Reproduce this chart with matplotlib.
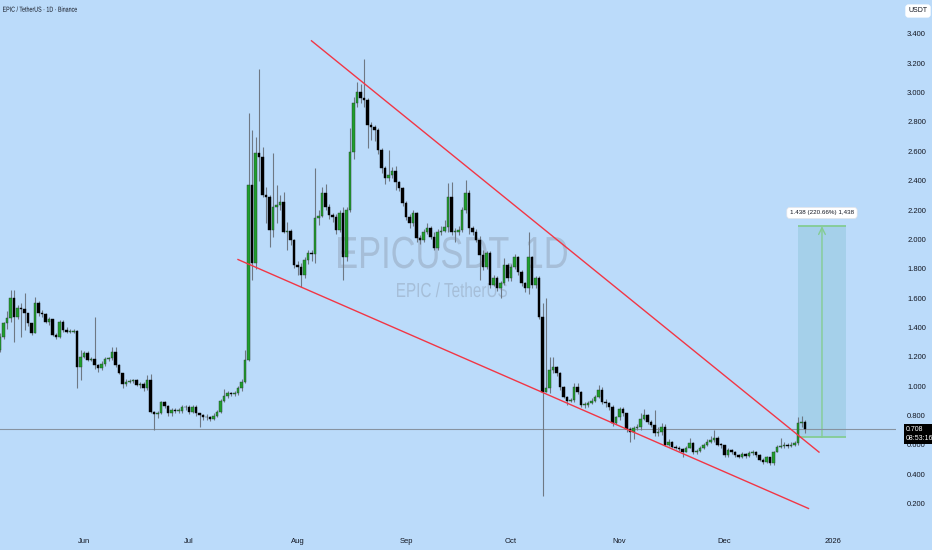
#!/usr/bin/env python3
import pandas as pd
import numpy as np
import matplotlib
matplotlib.use('Agg')
import matplotlib.pyplot as plt
from matplotlib.patches import Rectangle, PathPatch
from matplotlib.textpath import TextPath
from matplotlib.font_manager import FontProperties
from matplotlib.transforms import Affine2D, IdentityTransform

# Daily candles EPIC/USDT (Binance), first candle 2025-05-08
start_date = '2025-05-08'
first_open = 1.246

closes = [
    1.337, 1.428, 1.462, 1.598, 1.473, 1.530, 1.523, 1.496, 1.428, 1.364,
    1.569, 1.496, 1.491, 1.439, 1.455, 1.348, 1.337, 1.439, 1.382, 1.371,
    1.371, 1.378, 1.128, 1.196, 1.228, 1.178, 1.187, 1.144, 1.121, 1.151,
    1.183, 1.189, 1.235, 1.144, 1.087, 1.014, 1.030, 1.037, 1.042, 1.008,
    1.012, 0.985, 1.042, 0.826, 0.808, 0.815, 0.894, 0.865, 0.815, 0.837,
    0.830, 0.833, 0.855, 0.860, 0.826, 0.860, 0.815, 0.803, 0.787, 0.792,
    0.774, 0.796, 0.826, 0.901, 0.933, 0.951, 0.946, 0.955, 0.985, 1.030,
    1.178, 2.370, 1.837, 2.586, 2.563, 2.302, 2.291, 2.064, 2.223, 2.235,
    2.257, 2.052, 2.060, 1.995, 1.825, 1.814, 1.757, 1.859, 1.905, 1.900,
    2.143, 2.161, 2.318, 2.223, 2.166, 2.155, 2.064, 2.177, 1.882, 2.200,
    2.597, 2.927, 3.006, 2.960, 2.949, 2.779, 2.768, 2.745, 2.609, 2.484,
    2.416, 2.438, 2.468, 2.393, 2.348, 2.245, 2.154, 2.109, 2.182, 2.007,
    1.996, 2.052, 2.075, 2.019, 1.939, 2.053, 2.057, 2.082, 2.291, 2.053,
    2.053, 2.064, 2.200, 2.314, 2.076, 2.053, 1.996, 1.894, 1.814, 1.905,
    1.690, 1.735, 1.667, 1.701, 1.826, 1.735, 1.814, 1.878, 1.780, 1.701,
    1.667, 1.878, 1.690, 1.735, 1.474, 0.963, 0.985, 1.110, 1.133, 1.088,
    0.997, 0.929, 0.901, 0.905, 0.997, 0.963, 0.872, 0.872, 0.888, 0.900,
    0.929, 0.974, 0.895, 0.883, 0.861, 0.747, 0.790, 0.842, 0.815, 0.706,
    0.685, 0.713, 0.720, 0.774, 0.804, 0.758, 0.735, 0.679, 0.690, 0.725,
    0.600, 0.620, 0.588, 0.580, 0.570, 0.555, 0.582, 0.610, 0.555, 0.558,
    0.577, 0.600, 0.622, 0.633, 0.645, 0.600, 0.598, 0.530, 0.565, 0.555,
    0.531, 0.520, 0.538, 0.525, 0.547, 0.552, 0.530, 0.497, 0.486, 0.515,
    0.475, 0.554, 0.588, 0.593, 0.597, 0.595, 0.597, 0.610, 0.747, 0.758,
    0.708]

highs = [
    1.36, 1.44, 1.51, 1.655, 1.655, 1.55, 1.564, 1.632, 1.50, 1.43,
    1.609, 1.58, 1.52, 1.50, 1.47, 1.46, 1.36, 1.45, 1.45, 1.40,
    1.39, 1.39, 1.38, 1.246, 1.24, 1.24, 1.20, 1.473, 1.15, 1.17,
    1.20, 1.20, 1.27, 1.27, 1.15, 1.09, 1.05, 1.05, 1.05, 1.05,
    1.03, 1.03, 1.076, 1.08, 0.83, 0.83, 0.90, 0.90, 0.87, 0.85,
    0.85, 0.85, 0.87, 0.87, 0.87, 0.87, 0.87, 0.82, 0.81, 0.81,
    0.80, 0.82, 0.84, 0.91, 0.98, 0.97, 0.96, 0.97, 1.00, 1.05,
    1.246, 2.858, 2.745, 2.70, 3.16, 2.631, 2.359, 2.30, 2.59, 2.37,
    2.30, 2.325, 2.12, 2.07, 2.00, 1.85, 1.84, 1.88, 1.93, 1.93,
    2.484, 2.20, 2.36, 2.38, 2.24, 2.18, 2.17, 2.20, 2.22, 2.22,
    2.756, 2.97, 3.07, 3.06, 3.226, 2.96, 2.80, 2.78, 2.76, 2.62,
    2.50, 2.61, 2.49, 2.50, 2.40, 2.36, 2.26, 2.17, 2.20, 2.19,
    2.03, 2.07, 2.11, 2.09, 2.05, 2.07, 2.09, 2.13, 2.382, 2.393,
    2.08, 2.09, 2.22, 2.405, 2.34, 2.09, 2.07, 2.02, 1.93, 1.92,
    1.92, 1.76, 1.75, 1.72, 1.87, 1.84, 1.83, 1.90, 1.89, 1.79,
    1.71, 2.053, 1.89, 1.75, 1.75, 1.565, 1.599, 1.20, 1.20, 1.14,
    1.10, 1.00, 0.93, 0.92, 1.02, 1.02, 0.97, 0.89, 0.90, 0.92,
    0.94, 1.008, 0.997, 0.91, 0.89, 0.87, 0.80, 0.86, 0.86, 0.82,
    0.72, 0.73, 0.74, 0.815, 0.842, 0.81, 0.77, 0.838, 0.72, 0.75,
    0.74, 0.64, 0.63, 0.60, 0.59, 0.58, 0.59, 0.65, 0.62, 0.57,
    0.59, 0.61, 0.64, 0.66, 0.70, 0.66, 0.61, 0.60, 0.58, 0.57,
    0.56, 0.54, 0.55, 0.545, 0.56, 0.565, 0.56, 0.535, 0.51, 0.525,
    0.52, 0.56, 0.60, 0.65, 0.62, 0.61, 0.62, 0.63, 0.79, 0.80,
    0.77]

lows = [
    1.23, 1.32, 1.39, 1.44, 1.303, 1.46, 1.337, 1.382, 1.41, 1.35,
    1.36, 1.48, 1.47, 1.43, 1.42, 1.34, 1.32, 1.33, 1.37, 1.36,
    1.36, 1.36, 0.985, 1.042, 1.19, 1.17, 1.17, 1.12, 1.098, 1.11,
    1.14, 1.17, 1.18, 1.13, 1.08, 0.985, 1.00, 1.02, 1.02, 1.00,
    0.99, 0.97, 0.975, 0.82, 0.701, 0.78, 0.81, 0.85, 0.80, 0.80,
    0.82, 0.82, 0.82, 0.84, 0.81, 0.82, 0.80, 0.724, 0.77, 0.77,
    0.76, 0.77, 0.79, 0.82, 0.89, 0.92, 0.93, 0.93, 0.94, 0.97,
    1.02, 1.17, 1.723, 1.80, 2.40, 2.29, 2.109, 1.95, 2.018, 2.11,
    2.20, 2.041, 1.93, 1.96, 1.803, 1.76, 1.677, 1.74, 1.83, 1.85,
    1.84, 2.10, 2.15, 2.20, 2.14, 2.12, 2.04, 2.05, 1.723, 1.85,
    2.19, 2.55, 2.90, 2.93, 2.90, 2.62, 2.68, 2.67, 2.58, 2.45,
    2.38, 2.40, 2.42, 2.34, 2.33, 2.23, 2.13, 2.08, 2.09, 1.98,
    1.97, 1.98, 2.04, 2.00, 1.93, 1.93, 2.03, 2.05, 2.05, 2.03,
    1.98, 2.03, 2.05, 2.18, 2.04, 2.03, 1.98, 1.724, 1.79, 1.80,
    1.67, 1.68, 1.65, 1.599, 1.69, 1.72, 1.72, 1.80, 1.76, 1.68,
    1.64, 1.63, 1.67, 1.67, 1.46, 0.25, 0.96, 0.951, 1.09, 1.07,
    0.975, 0.92, 0.872, 0.89, 0.89, 0.95, 0.86, 0.85, 0.86, 0.88,
    0.89, 0.92, 0.88, 0.86, 0.84, 0.73, 0.74, 0.77, 0.80, 0.69,
    0.62, 0.64, 0.70, 0.70, 0.77, 0.74, 0.72, 0.66, 0.66, 0.67,
    0.59, 0.59, 0.58, 0.57, 0.56, 0.52, 0.55, 0.58, 0.54, 0.54,
    0.55, 0.57, 0.59, 0.61, 0.62, 0.59, 0.58, 0.52, 0.52, 0.54,
    0.52, 0.51, 0.51, 0.51, 0.52, 0.53, 0.52, 0.49, 0.47, 0.48,
    0.465, 0.465, 0.55, 0.58, 0.58, 0.58, 0.585, 0.59, 0.60, 0.72,
    0.68]

# trendlines (date, price)
upper_line = [('2025-08-05', 3.353), ('2025-12-28', 0.551)]
lower_line = [('2025-07-15', 1.863), ('2025-12-25', 0.167)]

# long position target box
entry_price = 0.652
target_price = 2.090
box_start = '2025-12-22'
box_end = '2026-01-04'
target_label = '1.438 (220.66%) 1,438'

last_price = 0.708
countdown = '08:53:16'

month_ticks = ['2025-06-01', '2025-07-01', '2025-08-01', '2025-09-01',
               '2025-10-01', '2025-11-01', '2025-12-01', '2026-01-01']
month_labels = ['Jun', 'Jul', 'Aug', 'Sep', 'Oct', 'Nov', 'Dec', '2026']
price_ticks = [0.2, 0.4, 0.6, 0.8, 1.0, 1.2, 1.4, 1.6, 1.8, 2.0, 2.2, 2.4,
               2.6, 2.8, 3.0, 3.2, 3.4]

BG = '#bbdbfa'
UP = '#1f9e2c'
DOWN = '#000000'
WICK = '#6e7884'
TXT = '#131722'

plt.rcParams['font.family'] = ['Liberation Sans', 'DejaVu Sans']

t0 = pd.Timestamp(start_date)
def day(d):
    return (pd.Timestamp(d) - t0).days


def narrow_text(host, s, left, base, width, cap, color, alpha=1.0, zorder=0):
    # text drawn as a path squeezed into a given pixel box (narrow UI font look)
    tp = TextPath((0, 0), s, size=1, prop=FontProperties(family='Liberation Sans'))
    ext = tp.get_extents()
    sx = width / ext.width
    sy = cap / 0.69
    tr = Affine2D().translate(-ext.x0, 0).scale(sx, sy).translate(left, 550 - base)
    p = PathPatch(tp, transform=tr + IdentityTransform(), fc=color, ec='none',
                  alpha=alpha, zorder=zorder, clip_on=False)
    host.add_artist(p)


n = len(closes)
x = np.arange(n)
opens = [first_open] + closes[:-1]

fig = plt.figure(figsize=(9.32, 5.5), dpi=100, facecolor=BG)
ax = fig.add_axes([0, 22 / 550, 896 / 932, 528 / 550])
ax.set_facecolor(BG)
ax.set_xlim(0, 256)
ax.set_ylim(0.034, 3.631)
for s in ax.spines.values():
    s.set_visible(False)

# watermark
narrow_text(ax, 'EPICUSDT, 1D', 338, 268, 229, 31, '#7f8a99', alpha=0.35, zorder=0)
narrow_text(ax, 'EPIC / TetherUS', 397, 297, 110, 14, '#7f8a99', alpha=0.35, zorder=0)

# position box
b0, b1 = day(box_start), day(box_end) + 0.7
ax.add_patch(Rectangle((b0, entry_price), b1 - b0, target_price - entry_price,
                       facecolor='#a5d0ea', edgecolor='none', zorder=1))
ax.hlines([entry_price, target_price], b0, b1, color='#84cc93', lw=1.3, zorder=1.5)
xm = (b0 + b1) / 2
ax.annotate('', xy=(xm, target_price), xytext=(xm, entry_price),
            arrowprops=dict(arrowstyle='->', color='#84cc93', lw=1.0,
                            shrinkA=0, shrinkB=0, mutation_scale=12), zorder=1.5)
ax.text(xm, 2.18, target_label, ha='center', va='center', fontsize=4.5,
        color=TXT, zorder=6,
        bbox=dict(boxstyle='round,pad=0.5', fc='white', ec='#dfe3ea', lw=0.5))

# current price line
ax.axhline(last_price, color='#8793a0', lw=0.8, zorder=1.6)

# candles
o = np.array(opens)
c = np.array(closes)
up = c >= o
ax.vlines(x, lows, highs, color=WICK, lw=0.8, zorder=2)
bottom = np.minimum(o, c)
height = np.maximum(np.abs(c - o), 0.005)
ax.bar(x[up], height[up], bottom=bottom[up], width=0.72, color=UP,
       edgecolor='#2b3a2e', linewidth=0.3, zorder=3)
ax.bar(x[~up], height[~up], bottom=bottom[~up], width=0.72, color=DOWN,
       edgecolor=DOWN, linewidth=0.3, zorder=3)

# trendlines
for line in (upper_line, lower_line):
    ax.plot([day(d) for d, _ in line], [p for _, p in line],
            color='#f23645', lw=1.0, zorder=4)

# axes labels
ax.set_xticks([day(d) for d in month_ticks])
ax.set_xticklabels(month_labels)
ax.set_yticks(price_ticks)
ax.set_yticklabels([f'{p:.3f}' for p in price_ticks])
ax.yaxis.tick_right()
ax.tick_params(axis='x', length=0, pad=7, labelsize=5.5, labelcolor=TXT)
ax.tick_params(axis='y', length=0, pad=8, labelsize=5.5, labelcolor=TXT)

narrow_text(fig, 'EPIC / TetherUS · 1D · Binance', 3, 11.7, 74, 5, TXT, zorder=5)
fig.text(918 / 932, 1 - 11 / 550, 'USDT', ha='center', va='center',
         fontsize=5, color=TXT,
         bbox=dict(boxstyle='round,pad=0.45', fc='white', ec='none'))
fig.text(906 / 932, 1 - 434 / 550, f'{last_price:.3f}\n{countdown}',
         ha='left', va='center', fontsize=5, color='white', linespacing=1.4,
         bbox=dict(boxstyle='square,pad=0.3', fc='black', ec='none'))

fig.savefig('out.png', dpi=100, facecolor=BG)
print('Saved plot to out.png')
